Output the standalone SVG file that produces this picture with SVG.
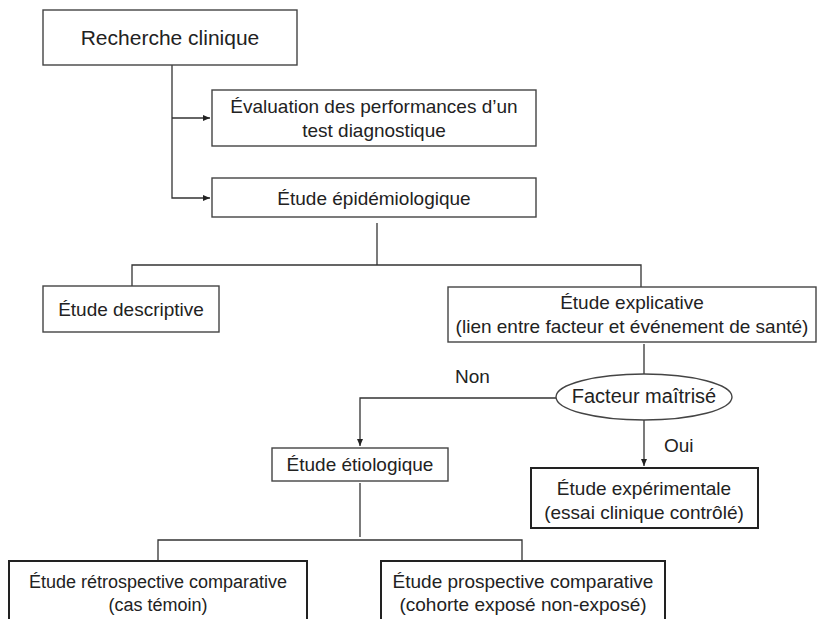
<svg xmlns="http://www.w3.org/2000/svg" width="824" height="619" viewBox="0 0 824 619">
<defs>
<marker id="arr" markerWidth="8" markerHeight="8" refX="7" refY="4" orient="auto" markerUnits="userSpaceOnUse">
<path d="M0,1 L7,4 L0,7 Z" fill="#222"/>
</marker>
<style>
.box{fill:#fff;stroke:#444;stroke-width:1.4}
.thick{stroke:#222;stroke-width:2}
.ln{fill:none;stroke:#333;stroke-width:1.3}
text{font-family:"Liberation Sans",Arial,sans-serif;font-size:19px;fill:#222;text-anchor:middle}
.lbl{text-anchor:start}
</style>
</defs>
<rect width="824" height="619" fill="#fff"/>
<g id="connectors">
<path class="ln" d="M172,65 V198 H210" marker-end="url(#arr)"/>
<path class="ln" d="M172,118 H210" marker-end="url(#arr)"/>
<path class="ln" d="M377,223 V265"/>
<path class="ln" d="M132,286 V265 H641 V287"/>
<path class="ln" d="M644,344 V374"/>
<path class="ln" d="M556,398 H360 V446" marker-end="url(#arr)"/>
<path class="ln" d="M644,420 V466" marker-end="url(#arr)"/>
<path class="ln" d="M360,483 V537"/>
<path class="ln" d="M158,561 V540 H522 V561"/>
<text class="lbl" x="455" y="383">Non</text>
<text class="lbl" x="664" y="452">Oui</text>
</g>
<g id="recherche">
<rect class="box" x="43" y="10" width="254" height="55"/>
<text x="170" y="45" style="font-size:21px">Recherche clinique</text>
</g>
<g id="evaluation">
<rect class="box" x="212" y="90" width="324" height="56"/>
<text x="374" y="113">Évaluation des performances d’un</text>
<text x="374" y="137">test diagnostique</text>
</g>
<g id="epidemiologique">
<rect class="box" x="212" y="178" width="324" height="39"/>
<text x="374" y="205">Étude épidémiologique</text>
</g>
<g id="descriptive">
<rect class="box" x="43" y="286" width="176" height="46"/>
<text x="131" y="316">Étude descriptive</text>
</g>
<g id="explicative">
<rect class="box" x="448" y="287" width="368" height="55"/>
<text x="632" y="309">Étude explicative</text>
<text x="632" y="333">(lien entre facteur et événement de santé)</text>
</g>
<g id="facteur">
<ellipse class="box" cx="644" cy="397" rx="88" ry="23"/>
<text x="644" y="403" style="font-size:20px">Facteur maîtrisé</text>
</g>
<g id="etiologique">
<rect class="box" x="272" y="448" width="176" height="33"/>
<text x="360" y="471">Étude étiologique</text>
</g>
<g id="experimentale">
<rect class="box thick" x="531" y="468" width="227" height="60"/>
<text x="644" y="495">Étude expérimentale</text>
<text x="644" y="519">(essai clinique contrôlé)</text>
</g>
<g id="retrospective">
<rect class="box thick" x="9" y="561" width="298" height="70"/>
<text x="158" y="588" style="font-size:18px">Étude rétrospective comparative</text>
<text x="158" y="611" style="font-size:18px">(cas témoin)</text>
</g>
<g id="prospective">
<rect class="box thick" x="381" y="561" width="284" height="70"/>
<text x="523" y="588">Étude prospective comparative</text>
<text x="523" y="611">(cohorte exposé non-exposé)</text>
</g>
</svg>
